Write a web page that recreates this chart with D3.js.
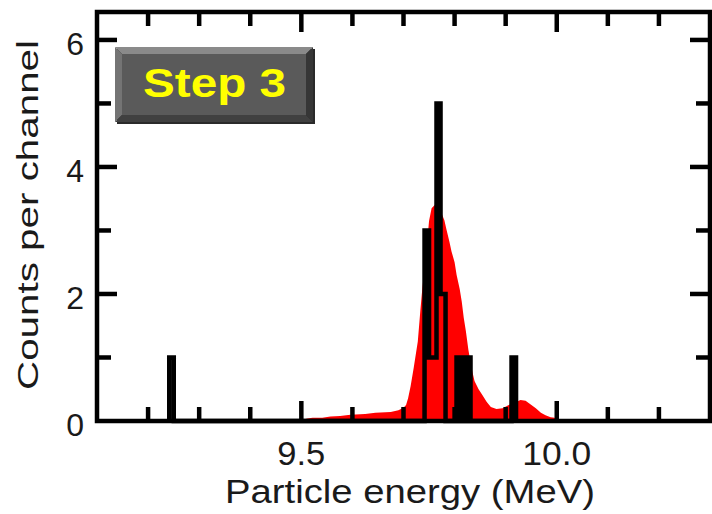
<!DOCTYPE html>
<html>
<head>
<meta charset="utf-8">
<script src="https://cdn.jsdelivr.net/npm/d3@7/dist/d3.min.js"></script>
<style>
  body { margin: 0; background: #fff; }
  text { font-family: "Liberation Sans", Arial, Helvetica, sans-serif; }
</style>
</head>
<body>
<svg id="chart" width="712" height="514"></svg>
<script>
// tick labels
var xTickLabels = ["9.5", "10.0"];
var yTickLabels = ["0", "2", "4", "6"];

// red: expected spectrum (energy in MeV, counts per channel)
var redEnergy = [9.488, 9.489, 9.508, 9.512, 9.522, 9.541, 9.557, 9.576, 9.596, 9.625,
  9.645, 9.675, 9.690, 9.700, 9.705, 9.709, 9.714, 9.720, 9.728, 9.733,
  9.737, 9.745, 9.750, 9.755, 9.761, 9.767, 9.775, 9.780, 9.784, 9.790,
  9.794, 9.800, 9.804, 9.810, 9.814, 9.818, 9.822, 9.827, 9.833, 9.839,
  9.847, 9.855, 9.863, 9.871, 9.882, 9.894, 9.906, 9.918, 9.929, 9.939,
  9.949, 9.959, 9.969, 9.978, 9.988, 9.996, 9.999];
var redCounts = [0, 0.03, 0.03, 0.04, 0.05, 0.05, 0.07, 0.08, 0.10, 0.11,
  0.13, 0.14, 0.17, 0.21, 0.25, 0.36, 0.55, 0.84, 1.25, 1.74,
  2.10, 2.70, 3.15, 3.35, 3.40, 3.38, 3.26, 3.16, 3.02, 2.82,
  2.67, 2.50, 2.30, 2.08, 1.88, 1.62, 1.42, 1.12, 0.84, 0.63,
  0.50, 0.40, 0.30, 0.22, 0.19, 0.20, 0.25, 0.29, 0.33, 0.32,
  0.26, 0.20, 0.13, 0.09, 0.06, 0.05, 0];

// black: measured histogram channels
var binLo    = [9.2414, 9.7412, 9.7500, 9.7646, 9.7725, 9.8038, 9.8116, 9.8155, 9.8194, 9.8233, 9.9115];
var binHi    = [9.2503, 9.7500, 9.7646, 9.7725, 9.7823, 9.8116, 9.8155, 9.8194, 9.8233, 9.8312, 9.9203];
var binCount = [1, 3, 1, 5, 2, 1, 0, 1, 0, 1, 1];

var svg = d3.select("#chart");
var plotL = 97, plotR = 710, plotT = 12, plotB = 421;

var x = d3.scaleLinear().domain([9.1, 10.3]).range([plotL, plotR]);
var y = d3.scaleLinear().domain([0, 6.44]).range([plotB, plotT]);

// red filled area
var redData = redEnergy.map(function(e, i){ return {e: e, v: redCounts[i]}; });
var area = d3.area()
  .x(function(d){ return x(d.e); })
  .y0(y(0))
  .y1(function(d){ return y(d.v); });
svg.append("path")
  .datum(redData)
  .attr("d", area)
  .attr("fill", "#ff0000");

// black step histogram outline
var stepPts = [];
for (var i = 0; i < binLo.length; i++) {
  if (i === 0 || binLo[i] !== binHi[i-1]) {
    stepPts.push([binLo[i], 0]);
  }
  stepPts.push([binLo[i], binCount[i]]);
  stepPts.push([binHi[i], binCount[i]]);
  if (i === binLo.length - 1 || binLo[i+1] !== binHi[i]) {
    stepPts.push([binHi[i], 0]);
  }
}
var stepLine = d3.line()
  .x(function(d){ return x(d[0]); })
  .y(function(d){ return y(d[1]); });
svg.append("path")
  .attr("d", stepLine(stepPts))
  .attr("fill", "none")
  .attr("stroke", "#000")
  .attr("stroke-width", 4.5)
  .attr("stroke-linejoin", "miter");

// ticks (inward on all four sides)
var xTicks = d3.range(92, 103).map(function(d){ return d / 10; });
var yTicks = d3.range(1, 7);
var majorLen = 20, minorLen = 14;
var tickG = svg.append("g").attr("stroke", "#000").attr("stroke-width", 4.5);
xTicks.forEach(function(t){
  var k = Math.round(t * 10);
  var len = (k % 5 === 0) ? majorLen : minorLen;
  tickG.append("line").attr("x1", x(t)).attr("x2", x(t)).attr("y1", plotB).attr("y2", plotB - len);
  tickG.append("line").attr("x1", x(t)).attr("x2", x(t)).attr("y1", plotT).attr("y2", plotT + len);
});
yTicks.forEach(function(t){
  var len = (t % 2 === 0) ? majorLen : minorLen;
  tickG.append("line").attr("x1", plotL).attr("x2", plotL + len).attr("y1", y(t)).attr("y2", y(t));
  tickG.append("line").attr("x1", plotR).attr("x2", plotR - len).attr("y1", y(t)).attr("y2", y(t));
});

// frame
svg.append("rect")
  .attr("x", plotL).attr("y", plotT)
  .attr("width", plotR - plotL).attr("height", plotB - plotT)
  .attr("fill", "none")
  .attr("stroke", "#000")
  .attr("stroke-width", 4.5);

// tick labels (original text is drawn a little wide)
var xLabLen = {"9.5": 48, "10.0": 69};
svg.selectAll(".xlab").data(xTickLabels).enter().append("text")
  .attr("x", function(d){ return x(+d); })
  .attr("y", 465)
  .attr("text-anchor", "middle")
  .attr("font-size", 33)
  .attr("fill", "#1a1a1a")
  .attr("textLength", function(d){ return xLabLen[d]; })
  .attr("lengthAdjust", "spacingAndGlyphs")
  .text(function(d){ return d; });
svg.selectAll(".ylab").data(yTickLabels).enter().append("text")
  .attr("x", 84)
  .attr("y", function(d){ return y(+d) + 15; })
  .attr("text-anchor", "end")
  .attr("font-size", 32)
  .attr("fill", "#1a1a1a")
  .text(function(d){ return d; });

// axis titles
svg.append("text")
  .attr("x", 410).attr("y", 503)
  .attr("text-anchor", "middle")
  .attr("font-size", 33)
  .attr("fill", "#1a1a1a")
  .attr("textLength", 370)
  .attr("lengthAdjust", "spacingAndGlyphs")
  .text("Particle energy (MeV)");
svg.append("text")
  .attr("transform", "translate(38,215) rotate(-90)")
  .attr("text-anchor", "middle")
  .attr("font-size", 30)
  .attr("fill", "#1a1a1a")
  .attr("textLength", 350)
  .attr("lengthAdjust", "spacingAndGlyphs")
  .text("Counts per channel");

// "Step 3" bevelled label
var bx = 115, by = 47, bw = 198, bh = 75, b = 7;
var box = svg.append("g").attr("transform", "translate(" + bx + "," + by + ")");
box.append("rect").attr("x", 2).attr("y", 2).attr("width", bw).attr("height", bh).attr("fill", "#2a2a2a");
box.append("polygon").attr("points", [[0,0],[bw,0],[bw-b,b],[b,b]].join(" ")).attr("fill", "#8a8a8a");
box.append("polygon").attr("points", [[0,0],[b,b],[b,bh-b],[0,bh]].join(" ")).attr("fill", "#747474");
box.append("polygon").attr("points", [[0,bh],[b,bh-b],[bw-b,bh-b],[bw,bh]].join(" ")).attr("fill", "#404040");
box.append("polygon").attr("points", [[bw,0],[bw,bh],[bw-b,bh-b],[bw-b,b]].join(" ")).attr("fill", "#363636");
box.append("rect").attr("x", b).attr("y", b).attr("width", bw - 2*b).attr("height", bh - 2*b).attr("fill", "#5a5a5a");
box.append("text")
  .attr("x", 28).attr("y", 50)
  .attr("font-size", 41)
  .attr("font-weight", "bold")
  .attr("fill", "#ffff00")
  .attr("textLength", 143)
  .attr("lengthAdjust", "spacingAndGlyphs")
  .text("Step 3");
</script>
</body>
</html>
